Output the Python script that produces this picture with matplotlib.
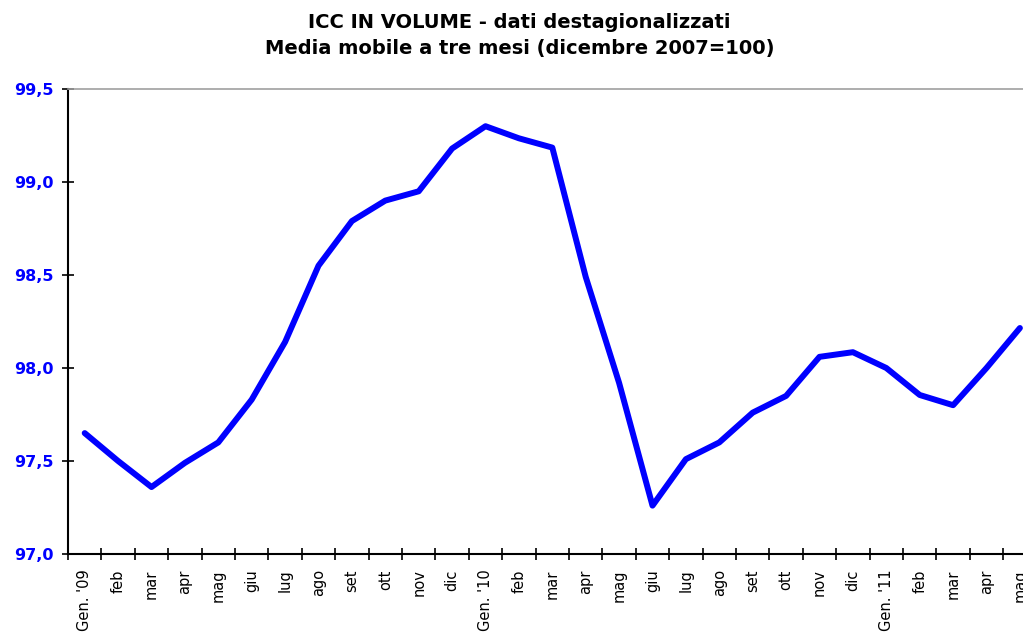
import numpy as np
import matplotlib
matplotlib.use("Agg")
import matplotlib.pyplot as plt
from matplotlib.ticker import FuncFormatter

mesi = ["Gen. '09", "feb", "mar", "apr", "mag", "giu", "lug", "ago", "set", "ott", "nov", "dic",
        "Gen. '10", "feb", "mar", "apr", "mag", "giu", "lug", "ago", "set", "ott", "nov", "dic",
        "Gen. '11", "feb", "mar", "apr", "mag"]
icc = [97.65, 97.50, 97.36, 97.49, 97.60, 97.83, 98.14, 98.55, 98.79, 98.90, 98.95, 99.18,
       99.30, 99.235, 99.185, 98.49, 97.92, 97.26, 97.51, 97.60, 97.76, 97.85, 98.06, 98.085,
       98.00, 97.855, 97.80, 98.00, 98.215]
yticks = [97.0, 97.5, 98.0, 98.5, 99.0, 99.5]

fig = plt.figure(figsize=(10.23, 6.36), dpi=100)
# the plot area runs past the right edge, as in the original (last label cut)
ax = fig.add_axes([68 / 1023, 82 / 636, 968.6 / 1023, 465 / 636])

x = np.arange(len(icc))
ax.plot(x, icc, color="#0000ff", lw=4.3, solid_joinstyle="round", solid_capstyle="round")

ax.set_xlim(-0.5, len(icc) - 0.5)
ax.set_ylim(97.0, 99.5)

ax.set_yticks(yticks)
ax.yaxis.set_major_formatter(FuncFormatter(lambda v, p: f"{v:.1f}".replace(".", ",")))
ax.tick_params(axis="y", direction="inout", length=8, width=1.2, colors="black",
               labelcolor="#0000ff", labelsize=11.5, pad=6)
for t in ax.get_yticklabels():
    t.set_fontweight("bold")

ax.set_xticks(np.arange(len(icc) + 1) - 0.5)
ax.set_xticklabels([])
ax.tick_params(axis="x", which="major", direction="inout", length=8, width=1.2)
ax.set_xticks(x, minor=True)
ax.set_xticklabels(mesi, minor=True, rotation=90, va="top", ha="center", fontsize=10.5)
ax.tick_params(axis="x", which="minor", length=0, pad=11)

ax.spines["left"].set_linewidth(1.5)
ax.spines["bottom"].set_linewidth(1.5)
ax.spines["top"].set_color("#a0a0a0")
ax.spines["top"].set_linewidth(1.2)
ax.spines["right"].set_visible(False)

fig.text(0.508, 0.965, "ICC IN VOLUME - dati destagionalizzati", ha="center", va="center",
         fontsize=14, fontweight="bold")
fig.text(0.508, 0.924, "Media mobile a tre mesi (dicembre 2007=100)", ha="center", va="center",
         fontsize=14, fontweight="bold")

fig.savefig("out.png", dpi=100)
